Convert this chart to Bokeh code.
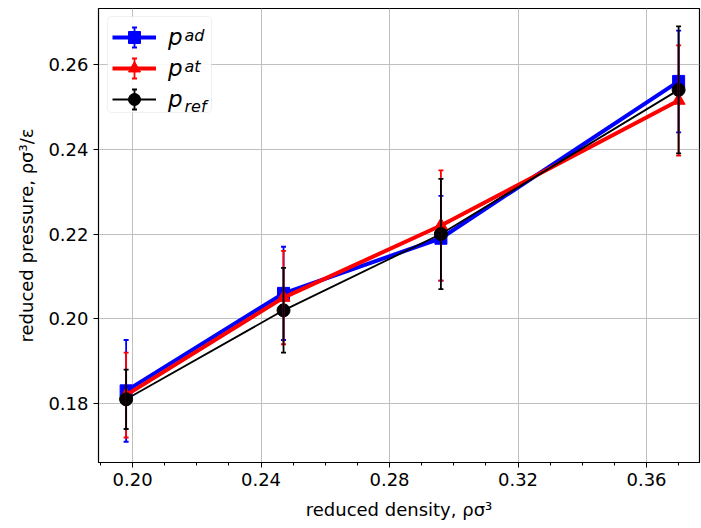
from bokeh.plotting import figure
from bokeh.models import (Whisker, TeeHead, Legend, LegendItem, Range1d,
                          SingleIntervalTicker, PrintfTickFormatter, Label,
                          ColumnDataSource, BoxAnnotation)
from bokeh.embed import file_html
from bokeh.resources import INLINE

# ---- data ----
density = [0.198, 0.247, 0.296, 0.370]
p_ad = [0.183, 0.206, 0.219, 0.256]
p_ad_err = [0.012, 0.011, 0.010, 0.012]
p_at = [0.182, 0.205, 0.222, 0.2515]
p_at_err = [0.010, 0.011, 0.013, 0.013]
p_ref = [0.181, 0.202, 0.220, 0.254]
p_ref_err = [0.007, 0.010, 0.013, 0.015]

x_label = "reduced density, ρσ³"
y_label = "reduced pressure, ρσ³/ε"

p = figure(width=701, height=528, output_backend="svg", toolbar_location=None,
           x_range=Range1d(0.1894, 0.3765), y_range=Range1d(0.1661, 0.2732),
           min_border_left=98, min_border_right=2, min_border_top=8,
           min_border_bottom=66)
p.background_fill_color = "white"
p.border_fill_color = "white"
p.outline_line_color = "black"
p.outline_line_width = 1.2

# legend frame (drawn separately so the sub/superscripts can sit on top)
p.add_layout(BoxAnnotation(left=9, right=113, top=446, bottom=350,
                           left_units="screen", right_units="screen",
                           top_units="screen", bottom_units="screen",
                           fill_color="white", fill_alpha=0.9,
                           line_color="#cccccc", line_width=1,
                           border_radius=4, level="underlay"))

series = [
    (p_ad, p_ad_err, "#0000ff", "square", 4, 12, 1.8),
    (p_at, p_at_err, "#ff0000", "triangle", 4, 13, 1.8),
    (p_ref, p_ref_err, "#000000", "circle", 1.8, 13, 1.8),
]
# legend error-bar strokes: centre heights of the legend rows (frame pixels)
legend_rows = [425, 394, 363]
items = []
for (vals, errs, col, mk, lw, ms, ew), row in zip(series, legend_rows):
    src = ColumnDataSource(dict(x=density, y=vals,
                                lo=[v - e for v, e in zip(vals, errs)],
                                hi=[v + e for v, e in zip(vals, errs)]))
    ln = p.line("x", "y", source=src, line_color=col, line_width=lw)
    w = Whisker(base="x", lower="lo", upper="hi", source=src, dimension="height",
                line_color=col, line_width=ew, level="glyph",
                upper_head=TeeHead(size=5, line_color=col, line_width=ew),
                lower_head=TeeHead(size=5, line_color=col, line_width=ew))
    p.add_layout(w)
    sc = p.scatter("x", "y", source=src, marker=mk, size=ms, fill_color=col,
                   line_color=col)
    items.append(LegendItem(label="p", renderers=[ln, sc]))
    lsrc = ColumnDataSource(dict(b=[36], lo=[row - 10], hi=[row + 10]))
    p.add_layout(Whisker(base="b", lower="lo", upper="hi", source=lsrc,
                         dimension="height", base_units="screen",
                         lower_units="screen", upper_units="screen",
                         line_color=col, line_width=ew, level="glyph",
                         upper_head=TeeHead(size=5, line_color=col, line_width=ew),
                         lower_head=TeeHead(size=5, line_color=col, line_width=ew)))

legend = Legend(items=items, location="top_left", margin=8, padding=6,
                spacing=1, glyph_width=44, glyph_height=30, label_standoff=12,
                label_width=36, label_text_font="DejaVu Sans",
                label_text_font_style="italic", label_text_font_size="23px",
                label_text_color="black",
                border_line_alpha=0, background_fill_alpha=0)
p.add_layout(legend)

for txt, sx, sy in [("ad", 86, 427), ("at", 86, 396), ("ref", 86, 356)]:
    p.add_layout(Label(x=sx, y=sy, x_units="screen", y_units="screen", text=txt,
                       text_font="DejaVu Sans", text_font_style="italic",
                       text_font_size="16px", text_baseline="alphabetic",
                       text_color="black", level="overlay"))

for ax in (p.xaxis[0], p.yaxis[0]):
    ax.axis_line_color = "black"
    ax.major_tick_line_color = "black"
    ax.minor_tick_line_color = "black"
    ax.major_tick_out = 5
    ax.major_tick_in = 0
    ax.major_label_text_color = "black"
    ax.major_label_text_font = "DejaVu Sans"
    ax.major_label_text_font_size = "18px"
    ax.axis_label_text_font = "DejaVu Sans"
    ax.axis_label_text_font_size = "18px"
    ax.axis_label_text_font_style = "normal"
    ax.axis_label_text_color = "black"
    ax.formatter = PrintfTickFormatter(format="%.2f")

p.xaxis[0].ticker = SingleIntervalTicker(interval=0.04, num_minor_ticks=4)
p.xaxis[0].minor_tick_out = 3
p.xaxis[0].minor_tick_in = 0
p.yaxis[0].ticker = SingleIntervalTicker(interval=0.02, num_minor_ticks=0)
p.xaxis[0].axis_label = x_label
p.yaxis[0].axis_label = y_label
p.xaxis[0].axis_label_standoff = 10
p.yaxis[0].axis_label_standoff = 8

p.xgrid.grid_line_color = "#c0c0c0"
p.ygrid.grid_line_color = "#c0c0c0"
p.xgrid.grid_line_width = 1
p.ygrid.grid_line_width = 1

open("out.html", "w").write(file_html(p, INLINE))
